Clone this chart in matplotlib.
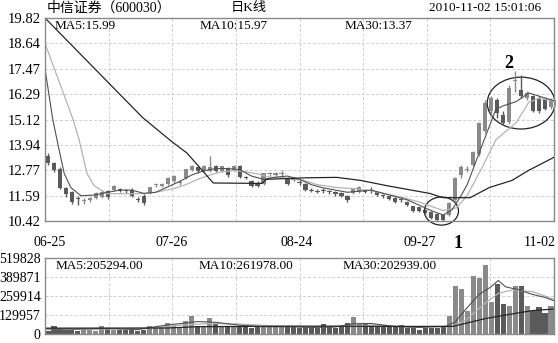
import matplotlib
matplotlib.use('Agg')
import matplotlib.pyplot as plt
import numpy as np
from matplotlib.patches import Ellipse

plt.rcParams['font.family'] = ['Liberation Serif', 'Noto Sans CJK SC']

W, H = 558, 343

# daily candles, 2010-06-25 .. 2010-11-02 (85 trading days)
opens = [13.45, 13.1, 12.85, 11.95, 11.75, 11.45, 11.35, 11.38, 11.5, 11.55,
         11.8, 11.85, 11.9, 11.85, 11.85, 11.42, 11.6, 11.7, 12.1, 12.05,
         12.15, 12.25, 12.2, 12.4, 12.78, 12.9, 12.75, 12.72, 12.95, 12.75,
         12.85, 12.8, 12.98, 12.45, 12.25, 12.2, 12.15, 12.6, 12.55, 12.6,
         12.4, 12.35, 12.22, 12.15, 11.85, 11.8, 11.85, 11.8, 11.78, 11.72,
         11.6, 11.7, 11.78, 11.8, 11.82, 11.75, 11.6, 11.58, 11.5, 11.4,
         11.32, 11.1, 11.05, 10.95, 10.85, 10.75, 10.7, 10.7, 11.4, 12.55,
         12.8, 13.0, 13.5, 14.6, 15.5, 16.0, 15.35, 15.0, 16.9, 16.5,
         16.1, 16.2, 16.1, 16.05, 15.7]
closes = [13.1, 12.8, 11.95, 11.65, 11.3, 11.42, 11.38, 11.5, 11.7, 11.78,
          11.55, 12.05, 11.8, 11.82, 11.6, 11.4, 11.25, 11.98, 12.12, 12.15,
          12.4, 12.5, 12.22, 12.82, 12.95, 12.72, 12.95, 12.9, 12.75, 12.95,
          12.55, 12.95, 12.45, 12.42, 12.06, 12.05, 12.62, 12.62, 12.65, 12.62,
          12.15, 12.33, 12.2, 11.85, 11.83, 11.78, 11.83, 11.75, 11.65, 11.58,
          11.38, 11.92, 11.98, 11.78, 11.8, 11.62, 11.58, 11.45, 11.3, 11.38,
          11.15, 10.9, 10.9, 10.8, 10.55, 10.48, 10.48, 11.25, 12.4, 12.9,
          12.82, 13.6, 14.98, 15.9, 16.1, 15.4, 14.95, 16.6, 16.95, 16.2,
          16.35, 15.5, 15.5, 15.6, 16.0]
highs = [13.55, 13.15, 12.9, 12.0, 11.8, 11.6, 11.5, 11.55, 11.75, 11.85,
         11.85, 12.1, 11.95, 11.9, 11.95, 11.55, 11.65, 12.0, 12.2, 12.2,
         12.45, 12.55, 12.3, 12.85, 13.0, 12.95, 13.0, 13.42, 13.0, 12.98,
         12.9, 13.0, 13.0, 12.5, 12.3, 12.25, 12.65, 12.7, 12.7, 12.8,
         12.45, 12.45, 12.3, 12.2, 11.95, 11.9, 11.95, 11.85, 11.82, 11.76,
         11.62, 11.95, 12.02, 11.9, 11.98, 11.78, 11.68, 11.6, 11.52, 11.5,
         11.35, 11.12, 11.08, 10.98, 10.9, 10.78, 10.72, 11.3, 12.45, 13.0,
         12.95, 13.65, 15.0, 16.0, 16.2, 16.1, 15.5, 16.7, 17.35, 17.2,
         16.45, 16.25, 16.2, 16.1, 16.1]
lows = [13.0, 12.7, 11.9, 11.55, 11.2, 11.15, 11.2, 11.3, 11.45, 11.5,
        11.45, 11.8, 11.75, 11.7, 11.55, 11.3, 11.15, 11.65, 12.0, 12.0,
        12.1, 12.2, 12.1, 12.35, 12.75, 12.65, 12.7, 12.7, 12.7, 12.7,
        12.45, 12.75, 12.4, 12.35, 12.0, 12.0, 12.1, 12.5, 12.5, 12.45,
        12.1, 12.25, 12.1, 11.8, 11.75, 11.7, 11.7, 11.65, 11.6, 11.55,
        11.3, 11.65, 11.72, 11.7, 11.72, 11.58, 11.5, 11.4, 11.25, 11.3,
        11.1, 10.85, 10.85, 10.75, 10.5, 10.44, 10.44, 10.65, 11.35, 12.4,
        12.7, 12.95, 13.45, 14.5, 15.3, 15.2, 14.85, 14.9, 16.4, 16.1,
        16.0, 15.45, 15.4, 15.55, 15.6]
volumes = [22000, 52000, 35000, 30000, 26000, 22000, 26000, 26000, 22000, 52000,
           35000, 26000, 26000, 26000, 26000, 22000, 26000, 56000, 48000, 48000,
           78000, 56000, 48000, 87000, 123000, 52000, 48000, 108000, 65000, 56000,
           52000, 52000, 48000, 52000, 39000, 48000, 56000, 52000, 48000, 56000,
           48000, 56000, 39000, 48000, 39000, 43000, 69000, 48000, 43000, 48000,
           74000, 113000, 65000, 65000, 52000, 52000, 48000, 48000, 48000, 61000,
           39000, 39000, 30000, 39000, 39000, 39000, 48000, 123000, 329000, 307000,
           160000, 398000, 381000, 474000, 221000, 344000, 208000, 193000, 329000, 329000,
           193000, 160000, 186000, 143000, 193000]

# moving average lines (day index, value)
ma5_idx = [-0.5, 0.8, 1.5, 2.7, 3.8, 5.5, 7.7, 10, 12, 14, 16, 18, 20, 22, 24, 26, 28, 30,
           32, 34, 36, 38, 40, 42, 44, 46, 48, 50, 52, 54, 56, 58, 60, 62, 64, 66, 67.5,
           69, 70, 72, 74.8, 76, 78.2, 80.3, 82, 84.5]
ma5_val = [17.47, 15.12, 14.18, 12.63, 11.97, 11.59, 11.62, 11.75, 11.85, 11.85, 11.7, 11.75,
           12.0, 12.25, 12.55, 12.75, 12.85, 12.85, 12.8, 12.5, 12.35, 12.45, 12.5, 12.35,
           12.1, 11.95, 11.85, 11.75, 11.8, 11.85, 11.7, 11.55, 11.4, 11.15, 10.9, 10.7,
           10.95, 11.6, 12.1, 13.57, 15.6, 15.75, 15.95, 16.35, 16.2, 15.99]
ma10_idx = [-0.5, 4.2, 5.2, 6.5, 7.7, 9.8, 12, 16, 18, 21, 23, 25, 27, 29, 31, 33, 35, 37, 40,
            42.7, 45, 48.2, 51, 53.8, 56, 59.3, 62, 63.8, 66, 68.2, 70, 72.5, 74.8, 78.2,
            80.3, 82, 84.5]
ma10_val = [18.64, 15.12, 14.18, 12.63, 12.06, 11.69, 11.68, 11.69, 11.75, 11.92, 12.1, 12.35,
            12.55, 12.7, 12.75, 12.7, 12.6, 12.45, 12.4, 12.3, 12.1, 11.97, 11.92, 11.83, 11.7,
            11.5, 11.3, 11.12, 10.9, 11.03, 11.6, 12.9, 14.18, 14.98, 15.92, 16.1, 15.97]
ma30_idx = [-0.5, 15.8, 20.7, 23.2, 27.6, 35.7, 36.5, 43, 48.2, 52.2, 56.5, 59.3, 63.7, 66,
            70.5, 73.7, 77.5, 80.3, 84.5]
ma30_val = [19.82, 15.21, 14.09, 13.57, 12.18, 12.16, 12.35, 12.42, 12.44, 12.3, 12.06, 11.92,
            11.7, 11.5, 11.5, 11.97, 12.3, 12.77, 13.37]

vma5_idx = [-0.5, 5, 10, 15, 18, 20, 23, 25, 28, 32, 36, 40, 44, 48, 51, 54, 58, 62, 66.4,
            68, 69.8, 72, 74, 75.2, 76.4, 78.7, 80.9, 83.1, 84.5]
vma5_val = [35000, 33000, 38000, 30000, 50000, 62000, 75000, 85000, 80000, 60000, 50000,
            50000, 45000, 48000, 70000, 72000, 50000, 45000, 52000, 82000, 171000, 271000,
            323000, 366000, 323000, 301000, 271000, 249000, 227000]
vma10_idx = [-0.5, 10, 17, 22, 27, 32, 38, 44, 50, 55, 60, 67.6, 69.8, 73.1, 75.3, 77.6,
             80.9, 83.1, 84.5]
vma10_val = [36000, 34000, 40000, 60000, 72000, 68000, 55000, 48000, 55000, 62000, 50000,
             52000, 95000, 215000, 280000, 301000, 290000, 258000, 236000]
vma30_idx = [-0.5, 20, 25, 42, 60, 67.6, 73.1, 77.6, 80.9, 84.5]
vma30_val = [40000, 41000, 50000, 54000, 52000, 52000, 106000, 138000, 160000, 171000]

price_ticks = [10.42, 11.59, 12.77, 13.94, 15.12, 16.29, 17.47, 18.64, 19.82]
vol_ticks = [0, 129957, 259914, 389871, 519828]
date_labels = ['06-25', '07-26', '08-24', '09-27', '11-02']

UP = '#8a8a8a'
DOWN = '#5a5a5a'
C_MA5 = '#505050'
C_MA10 = '#b4b4b4'
C_MA30 = '#262626'


def box(x0, y0, x1, y1):
    return [x0 / W, 1 - y1 / H, (x1 - x0) / W, (y1 - y0) / H]


fig = plt.figure(figsize=(W / 100, H / 100), dpi=100)
ax = fig.add_axes(box(45, 18, 554, 221))
axv = fig.add_axes(box(45, 258, 554, 334))

n = len(closes)
x = np.arange(n)
o = np.array(opens)
c = np.array(closes)
up = c >= o
cols = [UP if u else DOWN for u in up]

for a in (ax, axv):
    a.set_xlim(-0.5, n - 0.5)
    a.set_xticks(np.linspace(-0.5, n - 0.5, 9))
    a.set_xticklabels([])
    a.grid(True, color='#cfcfcf', linestyle=(0, (3, 2)), linewidth=0.7)
    a.set_axisbelow(True)
    a.tick_params(length=0, pad=3, labelsize=10.5)
    for s in a.spines.values():
        s.set_color('#8a8a8a')
        s.set_linewidth(1)

# candles
ax.vlines(x, lows, highs, colors=cols, linewidth=1)
body_bot = np.minimum(o, c)
body_h = np.maximum(np.abs(c - o), 0.045)
ax.bar(x, body_h, bottom=body_bot, width=0.7, color=cols, linewidth=0)

ax.plot(ma10_idx, ma10_val, color=C_MA10, linewidth=0.9)
ax.plot(ma5_idx, ma5_val, color=C_MA5, linewidth=0.8)
ax.plot(ma30_idx, ma30_val, color=C_MA30, linewidth=0.9)

ax.set_ylim(price_ticks[0], price_ticks[-1])
ax.set_yticks(price_ticks)
ax.set_yticklabels(['%.2f' % t for t in price_ticks])

ax.add_patch(Ellipse((65.7, 10.88), 5.7, 1.3, fill=False, edgecolor='#222222',
                     linewidth=0.9, clip_on=False))
ax.add_patch(Ellipse((79.0, 15.88), 11.3, 2.4, fill=False, edgecolor='#222222',
                     linewidth=0.9, clip_on=False))

# volume
axv.bar(x, volumes, width=0.85, color=cols, linewidth=0)
axv.plot(vma10_idx, vma10_val, color=C_MA10, linewidth=0.9)
axv.plot(vma5_idx, vma5_val, color=C_MA5, linewidth=0.8)
axv.plot(vma30_idx, vma30_val, color=C_MA30, linewidth=0.9)
axv.set_ylim(vol_ticks[0], vol_ticks[-1])
axv.set_yticks(vol_ticks)
axv.set_yticklabels([str(t) for t in vol_ticks], fontsize=10)


def t(px, py, s, **kw):
    fig.text(px / W, 1 - py / H, s, va='center', **kw)


t(47, 8, '中信证券（600030）', fontsize=10)
t(249, 8, '日K线', fontsize=9.5, ha='center')
t(541, 8, '2010-11-02 15:01:06', fontsize=9.5, ha='right')

t(55, 26, 'MA5:15.99', fontsize=9.5)
t(200, 26, 'MA10:15.97', fontsize=9.5)
t(345, 26, 'MA30:13.37', fontsize=9.5)

t(56, 266, 'MA5:205294.00', fontsize=9.5)
t(199, 266, 'MA10:261978.00', fontsize=9.5)
t(343, 266, 'MA30:202939.00', fontsize=9.5)

date_px = [50, 172, 297, 420, 540]
for px, lab in zip(date_px, date_labels):
    t(px, 242, lab, fontsize=10, ha='center')

t(458, 243, '1', fontsize=13, ha='center', fontweight='bold')
t(509, 63, '2', fontsize=13, ha='center', fontweight='bold')

fig.savefig('out.png', dpi=100, facecolor='white')
